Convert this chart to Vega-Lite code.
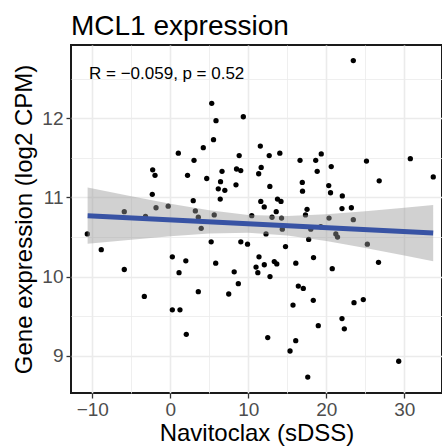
{
  "$schema": "https://vega.github.io/schema/vega-lite/v6.json",
  "width": 371,
  "height": 348,
  "autosize": {"type": "none"},
  "padding": {"left": 71, "top": 45, "right": 0, "bottom": 55},
  "background": "white",
  "title": {"text": "MCL1 expression", "anchor": "start", "frame": "group", "fontSize": 28, "fontWeight": "normal", "font": "Liberation Sans", "color": "black", "baseline": "alphabetic", "offset": -18},
  "config": {
    "view": {"stroke": "#1a1a1a", "strokeWidth": 2},
    "axis": {"labelFont": "Liberation Sans", "titleFont": "Liberation Sans", "labelColor": "#4D4D4D", "titleColor": "black", "titleFontWeight": "normal", "gridColor": "#EBEBEB", "domain": false, "tickColor": "#333333", "tickWidth": 1.3, "tickSize": 5}
  },
  "datasets": {
    "pts": [
      {"x": 5.31, "y": 12.19}, {"x": 5.86, "y": 11.97}, {"x": 9.36, "y": 12.02}, {"x": 5.54, "y": 11.73},
      {"x": 4.23, "y": 11.63}, {"x": 1.03, "y": 11.56}, {"x": 3.04, "y": 11.47}, {"x": 8.83, "y": 11.53},
      {"x": 11.54, "y": 11.65}, {"x": -2.26, "y": 11.35}, {"x": -1.96, "y": 11.28}, {"x": 2.21, "y": 11.28},
      {"x": 4.67, "y": 11.24}, {"x": 6.63, "y": 11.33}, {"x": 6.44, "y": 11.2}, {"x": 8.49, "y": 11.36},
      {"x": 9.03, "y": 11.34}, {"x": 8.42, "y": 11.16}, {"x": 6.15, "y": 11.11}, {"x": 6.99, "y": 11.09},
      {"x": -2.31, "y": 11.04}, {"x": 2.94, "y": 10.96}, {"x": 6.4, "y": 10.98}, {"x": -5.9, "y": 10.82},
      {"x": -3.18, "y": 10.76}, {"x": -1.83, "y": 10.87}, {"x": -0.27, "y": 10.89}, {"x": 3.21, "y": 10.83},
      {"x": 3.59, "y": 10.75}, {"x": 5.63, "y": 10.78}, {"x": 10.44, "y": 10.77}, {"x": 3.96, "y": 10.61},
      {"x": -10.64, "y": 10.54}, {"x": -8.85, "y": 10.34}, {"x": 5.24, "y": 10.44}, {"x": 9.04, "y": 10.44},
      {"x": 9.9, "y": 10.41}, {"x": 11.37, "y": 10.25}, {"x": 0.26, "y": 10.25}, {"x": 1.99, "y": 10.2},
      {"x": 1.12, "y": 10.05}, {"x": 5.82, "y": 10.17}, {"x": 8.19, "y": 10.06}, {"x": 10.99, "y": 10.12},
      {"x": 11.22, "y": 10.05}, {"x": -5.9, "y": 10.09}, {"x": -3.33, "y": 9.75}, {"x": 3.59, "y": 9.81},
      {"x": 7.49, "y": 9.78}, {"x": 8.72, "y": 9.91}, {"x": 0.26, "y": 9.58}, {"x": 1.24, "y": 9.58},
      {"x": 2.05, "y": 9.27}, {"x": 23.46, "y": 12.73}, {"x": 12.68, "y": 11.53}, {"x": 14.04, "y": 11.56},
      {"x": 11.65, "y": 11.38}, {"x": 11.33, "y": 11.3}, {"x": 16.63, "y": 11.47}, {"x": 18.64, "y": 11.47},
      {"x": 19.35, "y": 11.55}, {"x": 20.63, "y": 11.39}, {"x": 18.83, "y": 11.33}, {"x": 25.15, "y": 11.46},
      {"x": 30.77, "y": 11.49}, {"x": 33.71, "y": 11.26}, {"x": 26.78, "y": 11.21}, {"x": 12.76, "y": 11.14},
      {"x": 16.92, "y": 11.19}, {"x": 16.95, "y": 11.08}, {"x": 20.31, "y": 11.15}, {"x": 20.54, "y": 11.06},
      {"x": 22.05, "y": 11.02}, {"x": 11.6, "y": 10.95}, {"x": 12.04, "y": 10.88}, {"x": 13.74, "y": 10.98},
      {"x": 14.19, "y": 10.95}, {"x": 13.58, "y": 10.82}, {"x": 17.53, "y": 10.85}, {"x": 17.33, "y": 10.78},
      {"x": 22.01, "y": 10.86}, {"x": 23.21, "y": 10.87}, {"x": 13.04, "y": 10.75}, {"x": 14.26, "y": 10.74},
      {"x": 20.35, "y": 10.74}, {"x": 23.46, "y": 10.72}, {"x": 14.36, "y": 10.6}, {"x": 12.27, "y": 10.54},
      {"x": 18.01, "y": 10.6}, {"x": 19.29, "y": 10.63}, {"x": 17.74, "y": 10.47}, {"x": 21.22, "y": 10.54},
      {"x": 21.44, "y": 10.5}, {"x": 14.77, "y": 10.38}, {"x": 25.26, "y": 10.41}, {"x": 12.05, "y": 10.15},
      {"x": 13.33, "y": 10.19}, {"x": 13.65, "y": 10.16}, {"x": 12.78, "y": 10.0}, {"x": 16.09, "y": 10.17},
      {"x": 18.36, "y": 10.24}, {"x": 20.76, "y": 10.1}, {"x": 26.69, "y": 10.18}, {"x": 16.41, "y": 9.88},
      {"x": 17.05, "y": 9.85}, {"x": 15.73, "y": 9.64}, {"x": 18.33, "y": 9.7}, {"x": 23.55, "y": 9.67},
      {"x": 24.74, "y": 9.71}, {"x": 22.01, "y": 9.47}, {"x": 22.31, "y": 9.34}, {"x": 18.97, "y": 9.38},
      {"x": 12.49, "y": 9.23}, {"x": 16.08, "y": 9.19}, {"x": 15.35, "y": 9.06}, {"x": 29.28, "y": 8.93},
      {"x": 17.62, "y": 8.73}
    ],
    "band": [
      {"x": -10.6, "y": 10.415, "hi": 11.125},
      {"x": -5, "y": 10.467, "hi": 11.017},
      {"x": 0, "y": 10.51, "hi": 10.92},
      {"x": 5, "y": 10.545, "hi": 10.84},
      {"x": 10, "y": 10.555, "hi": 10.78},
      {"x": 15, "y": 10.521, "hi": 10.765},
      {"x": 20, "y": 10.449, "hi": 10.787},
      {"x": 25, "y": 10.36, "hi": 10.826},
      {"x": 30, "y": 10.266, "hi": 10.87},
      {"x": 33.7, "y": 10.195, "hi": 10.905}
    ],
    "fit": [
      {"x": -10.6, "y": 10.77},
      {"x": 33.7, "y": 10.55}
    ],
    "annot": [
      {"x": -10.42, "y": 12.497, "text": "R", "it": "italic"},
      {"x": -8.24, "y": 12.497, "text": "= −0.059,", "it": "normal"},
      {"x": 1.55, "y": 12.497, "text": "p", "it": "italic"},
      {"x": 3.37, "y": 12.497, "text": "= 0.52", "it": "normal"}
    ]
  },
  "encoding": {
    "x": {"field": "x", "type": "quantitative",
      "scale": {"domain": [-12.73, 34.83], "nice": false, "zero": false},
      "axis": {"title": "Navitoclax (sDSS)", "titleFontSize": 24, "labelFontSize": 19, "labelPadding": 2, "titlePadding": 2,
        "values": [-10, -5, 0, 5, 10, 15, 20, 25, 30],
        "labelExpr": "datum.value % 10 === 0 ? datum.label : ''",
        "gridWidth": {"condition": {"test": "datum.value % 10 === 0", "value": 1.6}, "value": 0.8},
        "tickOpacity": {"condition": {"test": "datum.value % 10 === 0", "value": 1}, "value": 0}}},
    "y": {"field": "y", "type": "quantitative",
      "scale": {"domain": [8.529, 12.927], "nice": false, "zero": false},
      "axis": {"title": "Gene expression (log2 CPM)", "titleFontSize": 24, "labelFontSize": 19, "labelPadding": 3, "titlePadding": 5,
        "values": [9, 9.5, 10, 10.5, 11, 11.5, 12, 12.5],
        "labelExpr": "datum.value % 1 === 0 ? format(datum.value, 'd') : ''",
        "gridWidth": {"condition": {"test": "datum.value % 1 === 0", "value": 1.6}, "value": 0.8},
        "tickOpacity": {"condition": {"test": "datum.value % 1 === 0", "value": 1}, "value": 0}}}
  },
  "layer": [
    {
      "data": {"name": "pts"},
      "mark": {"type": "circle", "size": 28, "color": "black", "opacity": 1}
    },
    {
      "data": {"name": "band"},
      "mark": {"type": "area", "color": "#999999", "opacity": 0.45},
      "encoding": {
        "y2": {"field": "hi"}
      }
    },
    {
      "data": {"name": "fit"},
      "mark": {"type": "line", "color": "#3853A4", "strokeWidth": 5}
    },
    {
      "data": {"name": "annot"},
      "mark": {"type": "text", "align": "left", "baseline": "alphabetic", "fontSize": 17, "font": "Liberation Sans", "color": "black"},
      "encoding": {
        "text": {"field": "text"},
        "fontStyle": {"field": "it", "type": "nominal", "scale": null}
      }
    }
  ]
}
